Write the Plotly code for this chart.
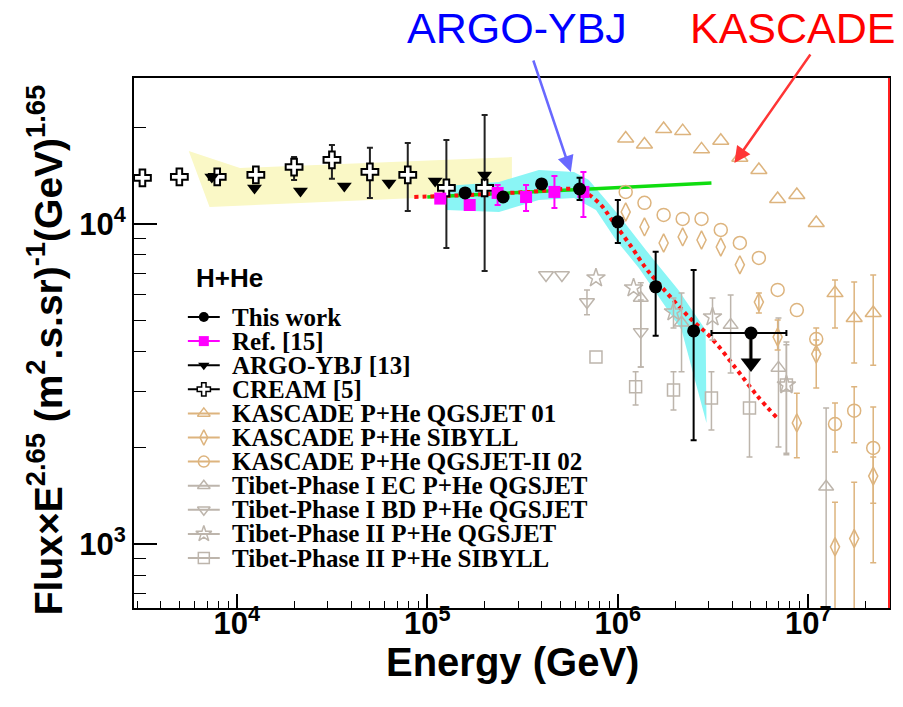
import plotly.graph_objects as go
import math

# ---------------- data ----------------
this_E = [1.58e5, 2.5e5, 3.98e5, 6.3e5, 1.0e6, 1.58e6, 2.5e6]
this_F = [12500, 12140, 13340, 12860, 10150, 6360, 4630]
this_hi = [None, None, None, 13930, 11880, 8180, 7180]
this_lo = [None, None, None, 11880, 8720, 4470, 2110]

ul_E = [5.0e6]
ul_F = [4560]
ul_E_lo = [3.1e6]
ul_E_hi = [7.67e6]
ul_head_F = [3680]

ref_E = [1.17e5, 1.67e5, 2.34e5, 3.3e5, 4.65e5, 6.6e5]
ref_F = [12000, 11460, 12500, 12140, 12590, 12590]
ref_hi = [None, None, 13240, 13240, 14130, 14540]
ref_lo = [None, None, 11460, 10980, 11220, 10520]

argo_E = [7.4e3, 1.24e4, 2.16e4, 3.67e4, 6.3e4, 1.1e5, 2.0e5]
argo_F = [14030, 12960, 12680, 13150, 13430, 13620, 14230]

cream_E = [3.2e3, 5.0e3, 7.9e3, 1.26e4, 2.0e4, 3.16e4, 5.0e4, 7.9e4, 1.26e5, 2.0e5]
cream_F = [13930, 14030, 14030, 14230, 15060, 15850, 14540, 14230, 12960, 12960]
cream_hi = [None, None, None, 14960, 16180, 17660, 17290, 17910, 18300, 21900]
cream_lo = [None, None, None, 13730, 13730, 13830, 12050, 10980, 8410, 7130]

kas_E = [1.1e6, 1.38e6, 1.74e6, 2.19e6, 2.75e6, 3.47e6, 4.37e6, 5.5e6, 6.9e6,
         8.7e6, 1.1e7, 1.38e7, 1.74e7, 2.19e7]
kq01_F = [18500, 17700, 19800, 19500, 17100, 18200, 16100, 14750, 11970, 12320,
          10070, 6080, 5080, 5270]
kq01_hi = [None] * 11 + [6680, 6590, 6930]
kq01_lo = [None] * 11 + [4730, 3680, 3620]

ksib_F = [10900, 9790, 8720, 9110, 8910, 8470, 7450, 5700, 4430, 2390, 3920, 980, 1040, 1630]
ksib_hi = [None] * 7 + [6080, 5010, 2960, 4340, 1350, 1560, 1870]
ksib_lo = [None] * 7 + [5270, 4040, 1860, 3070, 500, 500, 873]

kq2_F = [12590, 11640, 10670, 10370, 10370, 9580, 8720, 7830, 6220, 5380, 4370, 2370, 2610, 1995]
kq2_hi = [None] * 10 + [4730, 2760, 3100, 2680]
kq2_lo = [None] * 10 + [4040, 1940, 2070, 1340]

tec_E = [1.32e6, 2.16e6, 3.91e6, 6.97e6, 1.24e7]
tec_F = [5870, 4910, 4830, 3550, 1510]
tec_hi = [6550, 6080, 6000, 5080, 2660]
tec_lo = [3570, 3450, 3420, 2010, 500]

tbd_E = [4.2e5, 5.09e5, 6.89e5, 1.32e6]
tbd_F = [6930, 6930, 5700, 4600]
tbd_hi = [None, None, 6220, 5790]
tbd_lo = [None, None, 5200, 3570]

tq_E = [7.68e5, 1.21e6, 1.96e6, 3.14e6, 7.67e6]
tq_F = [6780, 6310, 5310, 5120, 3140]
tq_hi = [None, None, 5870, 5870, 4280]
tq_lo = [None, None, 4730, 4340, 1920]

tsib_E = [7.68e5, 1.24e6, 1.96e6, 3.10e6, 4.91e6, 7.67e6]
tsib_F = [3840, 3100, 3030, 2860, 2660, 3140]
tsib_hi = [None, 3450, 3450, 3450, 4660, 4190]
tsib_lo = [None, 2720, 2620, 2270, 1870, 1900]

argo_band_up_E = [5.6e3, 1.04e4, 2.78e5]
argo_band_up_F = [16900, 14960, 16180]
argo_band_lo_E = [7.2e3, 2.78e5]
argo_band_lo_F = [11300, 12400]

this_band_up_E = [1.26e5, 2.38e5, 3.85e5, 5.89e5, 7.05e5, 1.01e6, 1.40e6, 2.08e6, 2.89e6]
this_band_up_F = [13150, 13530, 14750, 14540, 13730, 10670, 8300, 6220, 4660]
this_band_lo_E = [1.26e5, 2.38e5, 3.85e5, 5.89e5, 7.68e5, 9.78e5, 1.29e6, 2.16e6, 2.92e6]
this_band_lo_F = [11060, 10900, 11880, 12050, 11060, 8910, 7290, 4660, 2390]

green_E = [1.0e5, 3.1e6]
green_F = [12140, 13430]

red_E = [8.55e4, 1.66e5, 3.42e5, 6.25e5, 7.96e5, 9.31e5, 1.18e6, 1.40e6, 1.58e6,
         2.36e6, 3.10e6, 4.15e6, 5.35e6, 6.79e6]
red_F = [12140, 12320, 12590, 12770, 11640, 10290, 8470, 7290, 6680, 5120, 4400,
         3550, 2920, 2490]

x_tick_vals = [1e4, 1e5, 1e6, 1e7]
x_tick_text = ["10<sup>4</sup>", "10<sup>5</sup>", "10<sup>6</sup>", "10<sup>7</sup>"]
y_tick_vals = [1e3, 1e4]
y_tick_text = ["10<sup>3</sup>", "10<sup>4</sup>"]

legend_labels = ["This work", "Ref. [15]", "ARGO-YBJ [13]", "CREAM [5]",
                 "KASCADE P+He QGSJET 01", "KASCADE P+He SIBYLL",
                 "KASCADE P+He QGSJET-II 02", "Tibet-Phase I EC P+He QGSJET",
                 "Tibet-Phase I BD P+He QGSJET", "Tibet-Phase II P+He QGSJET",
                 "Tibet-Phase II P+He SIBYLL"]

# ---------------- styles ----------------
TAN = "#DDB47E"
GRAY = "#BDB5AC"
MAG = "#FF00FF"
CYAN = "#8AF5F5"
YELLOW = "#FAF8C6"

# plot area in pixels (for placing texts)
L, R, T, B = 134, 891, 78, 608
W, H = 903, 707


def px(xp):
    return (xp - L) / (R - L)


def py(yp):
    return (B - yp) / (B - T)


fig = go.Figure()

# bands
fig.add_trace(go.Scatter(x=argo_band_up_E + argo_band_lo_E[::-1],
                         y=argo_band_up_F + argo_band_lo_F[::-1],
                         fill="toself", fillcolor=YELLOW, line=dict(width=0),
                         mode="lines", hoverinfo="skip"))
fig.add_trace(go.Scatter(x=this_band_up_E + this_band_lo_E[::-1],
                         y=this_band_up_F + this_band_lo_F[::-1],
                         fill="toself", fillcolor=CYAN, line=dict(width=0),
                         mode="lines", hoverinfo="skip"))
fig.add_trace(go.Scatter(x=green_E, y=green_F, mode="lines",
                         line=dict(color="#10DD10", width=3.5)))
fig.add_trace(go.Scatter(x=red_E, y=red_F, mode="lines", line_shape="spline",
                         line=dict(color="#FF1010", width=4, dash="dot")))


def add_series(E, F, hi, lo, symbol, color, size, lw=1.5, fillcolor=None,
               ecolor=None, ewidth=1.5):
    if hi is None:
        hi = [None] * len(E)
        lo = [None] * len(E)
    mk = dict(symbol=symbol, size=size,
              color=fillcolor if fillcolor else color,
              line=dict(color=color, width=lw))
    ie = [i for i in range(len(E)) if hi[i] is not None]
    ine = [i for i in range(len(E)) if hi[i] is None]
    if ie:
        fig.add_trace(go.Scatter(
            x=[E[i] for i in ie], y=[F[i] for i in ie], mode="markers", marker=mk,
            error_y=dict(type="data", symmetric=False,
                         array=[hi[i] - F[i] for i in ie],
                         arrayminus=[F[i] - lo[i] for i in ie],
                         color=ecolor or color, thickness=ewidth, width=3)))
    if ine:
        fig.add_trace(go.Scatter(
            x=[E[i] for i in ine], y=[F[i] for i in ine], mode="markers", marker=mk))


# other experiments
add_series(tsib_E, tsib_F, tsib_hi, tsib_lo, "square-open", GRAY, 12)
add_series(tq_E, tq_F, tq_hi, tq_lo, "star-open", GRAY, 14)
add_series(tbd_E, tbd_F, tbd_hi, tbd_lo, "triangle-down-open", GRAY, 13)
add_series(tec_E, tec_F, tec_hi, tec_lo, "triangle-up-open", GRAY, 13)
add_series(kas_E, kq2_F, kq2_hi, kq2_lo, "circle-open", TAN, 13)
add_series(kas_E, ksib_F, ksib_hi, ksib_lo, "diamond-tall-open", TAN, 13)
add_series(kas_E, kq01_F, kq01_hi, kq01_lo, "triangle-up-open", TAN, 14)

add_series(cream_E, cream_F, cream_hi, cream_lo, "cross", "black", 14, lw=2,
           fillcolor="white", ecolor="#222222", ewidth=2)
add_series(argo_E, argo_F, None, None, "triangle-down", "black", 13, lw=0)
add_series(ref_E, ref_F, ref_hi, ref_lo, "square", MAG, 12, lw=0, ewidth=2)
add_series(this_E, this_F, this_hi, this_lo, "circle", "black", 13, lw=0, ewidth=2)

# upper limit point of this work
fig.add_trace(go.Scatter(
    x=ul_E, y=ul_F, mode="markers",
    marker=dict(symbol="circle", size=13, color="black"),
    error_x=dict(type="data", symmetric=False,
                 array=[ul_E_hi[0] - ul_E[0]], arrayminus=[ul_E[0] - ul_E_lo[0]],
                 color="black", thickness=2, width=3),
    error_y=dict(type="data", symmetric=False, array=[0],
                 arrayminus=[ul_F[0] - ul_head_F[0]], color="black", thickness=3, width=0)))
fig.add_trace(go.Scatter(x=ul_E, y=ul_head_F, mode="markers",
                         marker=dict(symbol="triangle-down", size=18, color="black")))

# ---------------- legend (drawn on a pixel-scaled overlay axis) ----------------
leg_styles = [
    ("circle", "black", "black", 10),
    ("square", MAG, MAG, 10),
    ("triangle-down", "black", "black", 10),
    ("cross", "black", "white", 11),
    ("triangle-up-open", TAN, TAN, 11),
    ("diamond-tall-open", TAN, TAN, 11),
    ("circle-open", TAN, TAN, 11),
    ("triangle-up-open", GRAY, GRAY, 11),
    ("triangle-down-open", GRAY, GRAY, 11),
    ("star-open", GRAY, GRAY, 12),
    ("square-open", GRAY, GRAY, 11),
]
leg_y0, leg_dy = 317, 24.1
annotations = []
for k, (lab, (sym, col, fcol, sz)) in enumerate(zip(legend_labels, leg_styles)):
    yy = leg_y0 + k * leg_dy
    fig.add_trace(go.Scatter(x=[188, 220], y=[yy, yy], mode="lines",
                             line=dict(color=col, width=2), xaxis="x2", yaxis="y2"))
    fig.add_trace(go.Scatter(x=[204], y=[yy], mode="markers", xaxis="x2", yaxis="y2",
                             marker=dict(symbol=sym, size=sz, color=fcol,
                                         line=dict(color=col, width=1.5 if fcol != col or "open" in sym else 0))))
    annotations.append(dict(x=px(230), y=py(yy), xref="paper", yref="paper",
                            xanchor="left", yanchor="middle", showarrow=False,
                            text="<b>%s</b>" % lab,
                            font=dict(family="Liberation Serif", size=25, color="black")))

annotations.append(dict(x=px(194), y=py(278), xref="paper", yref="paper",
                        xanchor="left", yanchor="middle", showarrow=False,
                        text="<b>H+He</b>",
                        font=dict(family="Liberation Sans", size=26, color="black")))

# axis titles
annotations.append(dict(x=px(514), y=py(662), xref="paper", yref="paper",
                        xanchor="center", yanchor="middle", showarrow=False,
                        text="<b>Energy (GeV)</b>",
                        font=dict(family="Liberation Sans", size=40, color="black")))
annotations.append(dict(x=px(44), y=py(350), xref="paper", yref="paper",
                        xanchor="center", yanchor="middle", showarrow=False, textangle=-90,
                        text="<b>Flux×E<sup>2.65</sup> (m<sup>2</sup>.s.sr)<sup>-1</sup>(GeV)<sup>1.65</sup></b>",
                        font=dict(family="Liberation Sans", size=39, color="black")))

# callouts
annotations.append(dict(x=px(518), y=py(28), xref="paper", yref="paper",
                        xanchor="center", yanchor="middle", showarrow=False,
                        text="ARGO-YBJ",
                        font=dict(family="Liberation Sans", size=43, color="#0000FF")))
annotations.append(dict(x=px(795), y=py(28), xref="paper", yref="paper",
                        xanchor="center", yanchor="middle", showarrow=False,
                        text="KASCADE",
                        font=dict(family="Liberation Sans", size=43, color="#FF0000")))
annotations.append(dict(x=px(572), y=py(172), xref="paper", yref="paper", text="",
                        showarrow=True, ax=-38, ay=-113, arrowcolor="#6868FF",
                        arrowwidth=2.5, arrowhead=2, arrowsize=1.3))
annotations.append(dict(x=px(736), y=py(163), xref="paper", yref="paper", text="",
                        showarrow=True, ax=77, ay=-110, arrowcolor="#FF3535",
                        arrowwidth=2.5, arrowhead=2, arrowsize=1.3))


def minor_vals(lo_dec, hi_dec):
    vals = []
    for d in range(lo_dec, hi_dec + 1):
        for m in range(2, 10):
            vals.append(m * 10 ** d)
    return vals


tickfont = dict(family="Liberation Sans", size=31, color="black")

fig.update_layout(
    width=W, height=H, autosize=False,
    margin=dict(l=L, r=W - R, t=T, b=H - B),
    paper_bgcolor="white", plot_bgcolor="white",
    showlegend=False,
    annotations=annotations,
    xaxis=dict(type="log", range=[math.log10(2890), math.log10(2.65e7)],
               tickmode="array", tickvals=x_tick_vals,
               ticktext=["<b>%s</b>" % t for t in x_tick_text],
               ticks="inside", ticklen=14, tickwidth=1.5, tickcolor="black",
               tickfont=tickfont, showgrid=False, zeroline=False,
               ticklabelstandoff=-13,
               showline=True, linecolor="black", linewidth=2, mirror=True,
               minor=dict(tickmode="array", tickvals=minor_vals(3, 7), ticks="inside",
                          ticklen=7, tickwidth=1.2, tickcolor="black", showgrid=False)),
    yaxis=dict(type="log", range=[2.8, 4.456],
               tickmode="array", tickvals=y_tick_vals,
               ticktext=["<b>%s</b>" % t for t in y_tick_text],
               ticks="inside", ticklen=23, tickwidth=1.5, tickcolor="black",
               tickfont=tickfont, showgrid=False, zeroline=False,
               showline=True, linecolor="black", linewidth=2, mirror=True,
               minor=dict(tickmode="array", tickvals=minor_vals(2, 4), ticks="inside",
                          ticklen=12, tickwidth=1.2, tickcolor="black", showgrid=False)),
    xaxis2=dict(overlaying="x", range=[L, R], visible=False, anchor="y2", fixedrange=True),
    yaxis2=dict(overlaying="y", range=[B, T], visible=False, anchor="x2", fixedrange=True),
    shapes=[dict(type="line", xref="paper", yref="paper", x0=1, x1=1, y0=0, y1=1,
                 line=dict(color="#FF2020", width=2))],
)

fig.write_html("out.html")
